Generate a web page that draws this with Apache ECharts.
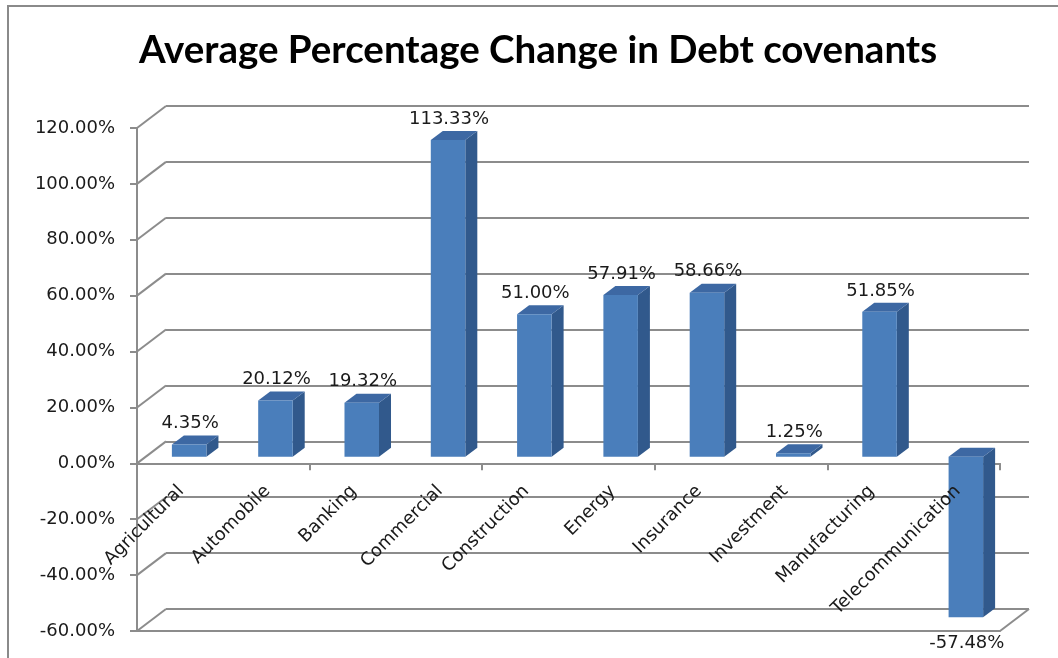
<!DOCTYPE html>
<html><head><meta charset="utf-8">
<script src="https://cdn.jsdelivr.net/npm/echarts@6/dist/echarts.min.js"></script>
<style>html,body{margin:0;padding:0;background:#fff}#c{width:1058px;height:658px}</style>
</head><body><div id="c"></div>
<script>
const categories = ['Agricultural','Automobile','Banking','Commercial','Construction','Energy','Insurance','Investment','Manufacturing','Telecommunication'];
const values = [4.35, 20.12, 19.32, 113.33, 51.00, 57.91, 58.66, 1.25, 51.85, -57.48];
const yTicks = [-60, -40, -20, 0, 20, 40, 60, 80, 100, 120];
const titleText = 'Average Percentage Change in Debt covenants';

const DEPTH = [29, -22];
const BAR_SHIFT = [9, -6.6];
const BAR_DEPTH = [12, -9];
const CAT_LABEL_OFFSET = [1, 25];
const FONT = 'DejaVu Sans';
const GRID_COLOR = '#8c8c8c';
const TEXT_COLOR = '#1a1a1a';
const C_FRONT = '#4A7EBB', C_SIDE = '#31598C', C_TOP = '#3D68A3';

const chart = echarts.init(document.getElementById('c'), null, {renderer: 'canvas'});
const fmt = v => Number(v).toFixed(2) + '%';

chart.setOption({
  animation: false,
  backgroundColor: '#fff',
  graphic: [{
    type: 'rect', silent: true, z: -10,
    shape: {x: 8, y: 6, width: 1200, height: 800},
    style: {fill: 'none', stroke: '#8a8a8a', lineWidth: 2}
  }],
  title: {
    text: titleText, left: 538, top: 31, padding: 0, textAlign: 'center',
    textStyle: {fontFamily: 'Lato', fontWeight: 'bold', fontSize: 38.5, color: '#000'}
  },
  grid: [
    {left: 137, right: 58, top: 128, bottom: 27, outerBoundsMode: 'none', containLabel: false},
    {left: 137 + DEPTH[0], right: 58 - DEPTH[0], top: 128 + DEPTH[1], bottom: 27 - DEPTH[1], outerBoundsMode: 'none', containLabel: false}
  ],
  xAxis: [
    {
      type: 'category', gridIndex: 0, data: categories,
      axisLine: {onZero: true, lineStyle: {color: GRID_COLOR, width: 2}},
      axisTick: {show: true, alignWithLabel: false, length: 7, lineStyle: {color: GRID_COLOR, width: 2}},
      axisLabel: {show: false},
      splitLine: {show: false}
    },
    {
      type: 'category', gridIndex: 0, data: categories, position: 'bottom',
      axisLine: {onZero: false, lineStyle: {color: GRID_COLOR, width: 2}},
      axisTick: {show: false}, axisLabel: {show: false}, splitLine: {show: false}
    },
    {type: 'category', gridIndex: 1, data: categories, show: false}
  ],
  yAxis: [
    {
      type: 'value', gridIndex: 0, min: -60, max: 120, interval: 20,
      axisLine: {show: true, lineStyle: {color: GRID_COLOR, width: 2}},
      axisTick: {show: true, length: 7, lineStyle: {color: GRID_COLOR, width: 2}},
      axisLabel: {formatter: fmt, margin: 22, fontFamily: FONT, fontSize: 18, color: TEXT_COLOR},
      splitLine: {show: false}
    },
    {
      type: 'value', gridIndex: 1, min: -60, max: 120, interval: 20,
      axisLine: {show: false}, axisTick: {show: false}, axisLabel: {show: false},
      splitLine: {show: true, lineStyle: {color: GRID_COLOR, width: 2}}
    }
  ],
  series: [
    {
      type: 'custom', name: 'frame', xAxisIndex: 0, yAxisIndex: 0, z: 1, silent: true,
      data: [[0, 0]],
      renderItem: function (params, api) {
        const cs = params.coordSys;
        const children = yTicks.map(t => {
          const y = api.coord([0, t])[1];
          return {type: 'line', shape: {x1: cs.x, y1: y, x2: cs.x + DEPTH[0], y2: y + DEPTH[1]},
                  style: {stroke: GRID_COLOR, lineWidth: 2}};
        });
        const yb = api.coord([0, yTicks[0]])[1];
        children.push({type: 'line', shape: {x1: cs.x + cs.width, y1: yb, x2: cs.x + cs.width + DEPTH[0], y2: yb + DEPTH[1]},
                       style: {stroke: GRID_COLOR, lineWidth: 2}});
        return {type: 'group', children: children};
      }
    },
    {
      type: 'custom', name: 'categoryLabels', xAxisIndex: 0, yAxisIndex: 0, z: 4, silent: true,
      data: categories.map((c, i) => [i, 0]),
      renderItem: function (params, api) {
        const i = api.value(0);
        const p = api.coord([i, 0]);
        return {
          type: 'text', x: p[0] + CAT_LABEL_OFFSET[0], y: p[1] + CAT_LABEL_OFFSET[1], rotation: Math.PI / 4,
          style: {text: categories[i], align: 'right', verticalAlign: 'middle', fontFamily: FONT, fontSize: 18, fill: TEXT_COLOR}
        };
      }
    },
    {
      type: 'custom', name: 'bars', xAxisIndex: 0, yAxisIndex: 0, z: 3,
      encode: {x: 0, y: 1},
      data: values.map((v, i) => [i, v]),
      renderItem: function (params, api) {
        const i = api.value(0), v = api.value(1);
        const p0 = api.coord([i, 0]), p1 = api.coord([i, v]);
        const band = api.size([1, 0])[0];
        const w = band * 0.4;
        const cx = p0[0] + BAR_SHIFT[0];
        const x1 = cx - w / 2, x2 = cx + w / 2;
        const yTop = Math.min(p0[1], p1[1]) + BAR_SHIFT[1];
        const yBot = Math.max(p0[1], p1[1]) + BAR_SHIFT[1];
        const dx = BAR_DEPTH[0], dy = BAR_DEPTH[1];
        return {
          type: 'group',
          children: [
            {type: 'polygon', shape: {points: [[x2, yTop], [x2 + dx, yTop + dy], [x2 + dx, yBot + dy], [x2, yBot]]}, style: {fill: C_SIDE}},
            {type: 'polygon', shape: {points: [[x1, yTop], [x2, yTop], [x2 + dx, yTop + dy], [x1 + dx, yTop + dy]]}, style: {fill: C_TOP}},
            {type: 'rect', shape: {x: x1, y: yTop, width: w, height: yBot - yTop}, style: {fill: C_FRONT}},
            {type: 'text', style: {text: fmt(v), x: cx + 1, y: v >= 0 ? yTop - 21 : yBot + 26,
              align: 'center', verticalAlign: 'middle', fontFamily: FONT, fontSize: 18, fill: TEXT_COLOR}}
          ]
        };
      }
    }
  ]
});
</script>
</body></html>
